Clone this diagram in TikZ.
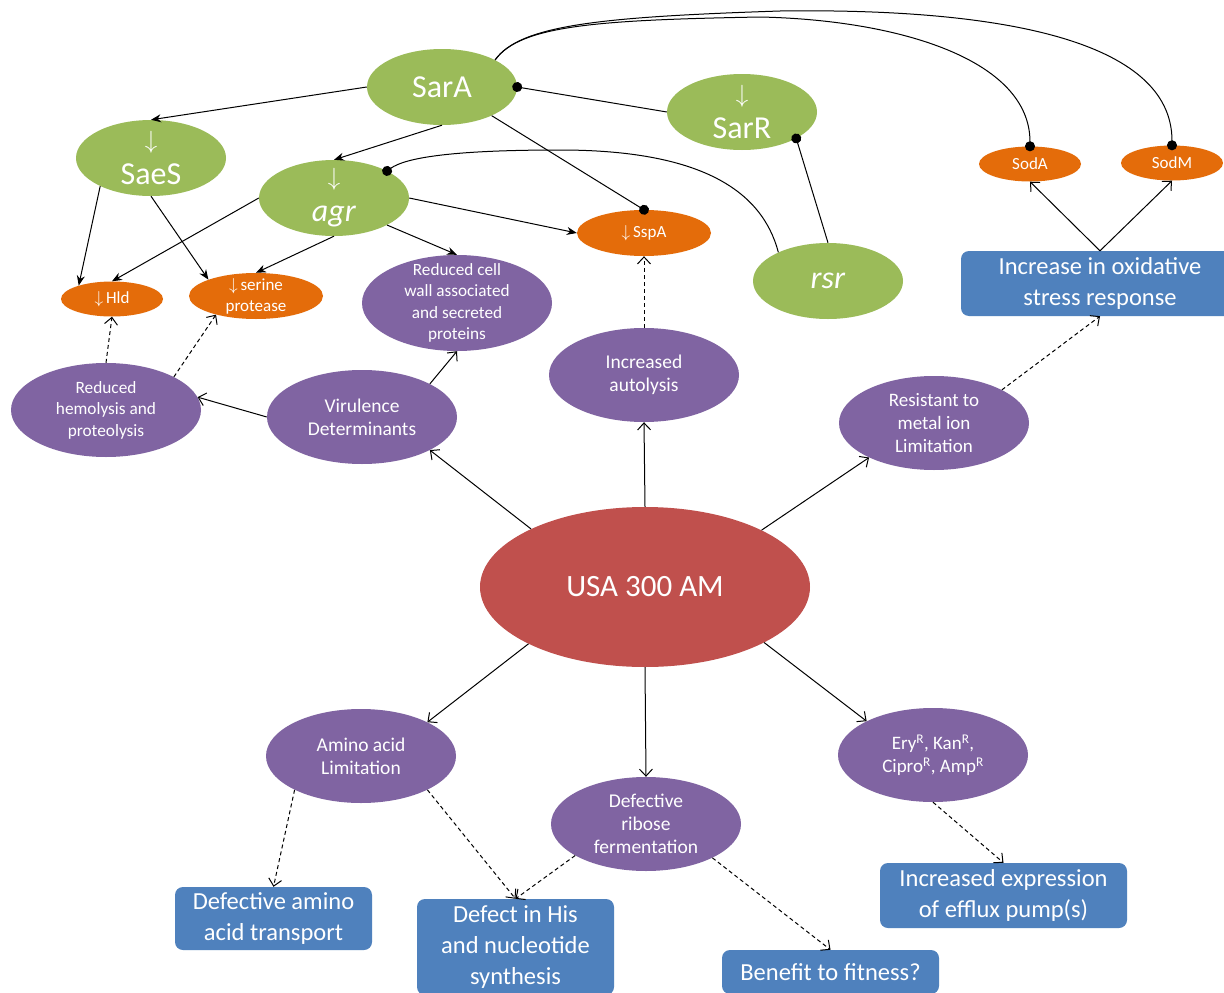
\documentclass[tikz,border=0pt]{standalone}
\usepackage{fontspec}
\setmainfont{Carlito}
\usetikzlibrary{shapes.geometric,arrows.meta}
\definecolor{cgreen}{HTML}{9BBB59}
\definecolor{corange}{HTML}{E46C0A}
\definecolor{cpurple}{HTML}{8064A2}
\definecolor{cblue}{HTML}{4F81BD}
\definecolor{cred}{HTML}{C0504D}
\newcommand{\dnarr}{$\downarrow$}
\newcommand{\res}{\textsuperscript{R}}
\tikzset{
  gene/.style={ellipse, fill=cgreen, text=white, minimum width=150pt, minimum height=76pt, inner xsep=0pt, inner ysep=-24pt, align=center, font=\fontsize{32}{36}\selectfont},
  prot/.style={ellipse, fill=corange, text=white, inner xsep=0pt, inner ysep=-24pt, align=center, font=\fontsize{17}{21}\selectfont},
  pheno/.style={ellipse, fill=cpurple, text=white, minimum width=190pt, minimum height=94pt, inner xsep=0pt, inner ysep=-24pt, align=center, font=\fontsize{19.5}{23}\selectfont},
  outc/.style={rectangle, rounded corners=8pt, fill=cblue, text=white, inner sep=0pt, align=center, font=\fontsize{24.5}{31}\selectfont},
  arr/.style={draw, line width=1pt, -{Straight Barb[length=7pt,width=13pt]}},
  darr/.style={arr, dash pattern=on 4pt off 3pt},
  garr/.style={draw, line width=1pt, -{Stealth[length=10pt,width=8pt]}},
  dotl/.style={draw, line width=1pt, -{Circle[length=10pt]}, shorten >=-5pt},
}
\begin{document}
\begin{tikzpicture}[x=1pt,y=-1pt]
\useasboundingbox (0,0) rectangle (1224,993);
\clip (0,0) rectangle (1224,993);
\fill[white] (0,0) rectangle (1224,993);

% gene nodes
\node[gene] (SarA) at (442,87) {SarA};
\node[gene] (SarR) at (742,112) {\dnarr\\SarR};
\node[gene] (SaeS) at (151,158) {\dnarr\\SaeS};
\node[gene] (agr) at (334,198) {\dnarr\\\textit{agr}};
\node[gene] (rsr) at (828,281) {\textit{rsr}};

% protein nodes
\node[prot, minimum width=102pt, minimum height=35pt] (SodA) at (1030,164) {SodA};
\node[prot, minimum width=102pt, minimum height=35pt] (SodM) at (1172,163) {SodM};
\node[prot, minimum width=134pt, minimum height=46pt] (SspA) at (644,233) {\dnarr\,SspA};
\node[prot, minimum width=102pt, minimum height=35pt] (Hld) at (112,299) {\dnarr\,Hld};
\node[prot, minimum width=134pt, minimum height=46pt] (serine) at (256,296) {\dnarr\,serine\\protease};

% phenotype nodes
\node[pheno, font=\fontsize{17.2}{21.5}\selectfont, minimum height=96pt] (cellwall) at (457,303) {Reduced cell\\wall associated\\and secreted\\proteins};
\node[pheno] (autolysis) at (644,375) {Increased\\autolysis};
\node[pheno, font=\fontsize{17.3}{21.5}\selectfont] (hemo) at (106,410) {Reduced\\hemolysis and\\proteolysis};
\node[pheno] (vir) at (362,417) {Virulence\\Determinants};
\node[pheno, font=\fontsize{19}{23}\selectfont] (resist) at (934,423) {Resistant to\\metal ion\\Limitation};
\node[fill=cred, ellipse, minimum width=330pt, minimum height=160pt, inner sep=0pt, text=white, font=\fontsize{31}{36}\selectfont] (USA) at (645,587) {USA 300 AM};
\node[pheno] (amino) at (361,756) {Amino acid\\Limitation};
\node[pheno] (ribose) at (646,824) {Defective\\ribose\\fermentation};
\node[pheno, font=\fontsize{19}{23}\selectfont] (ery) at (933,755) {Ery\res, Kan\res,\\Cipro\res, Amp\res};

% outcome boxes
\node[outc, minimum width=278pt, minimum height=65pt] (ox) at (1100,283.5) {Increase in oxidative\\stress response};
\node[outc, minimum width=197pt, minimum height=63pt] (transport) at (273.5,918.5) {Defective amino\\acid transport};
\node[outc, minimum width=197pt, minimum height=96pt] (his) at (515.5,947) {Defect in His\\and nucleotide\\synthesis};
\node[outc, minimum width=217pt, minimum height=44pt] (benefit) at (830.5,972) {Benefit to fitness?};
\node[outc, minimum width=247pt, minimum height=65pt] (efflux) at (1003.5,895.5) {Increased expression\\of efflux pump(s)};

% gene network
\draw[garr] (SarA.west) -- (SaeS.north);
\draw[garr] (SarA.south) -- (agr.north);
\draw[dotl] (SarR.west) -- (SarA.east);
\draw[dotl] (SarA.-30) -- (SspA.north);
\draw[dotl] (SarA.27) .. controls (520,25) and (600,17) .. (780,11) .. controls (1000,8) and (1172,40) .. (SodM.north);
\draw[dotl] (SarA.27) .. controls (520,25) and (600,20) .. (760,17) .. controls (900,20) and (1030,60) .. (SodA.north);
\draw[dotl] (rsr.north) -- (SarR.-26);
\draw[dotl] (rsr.150) .. controls (762,190) and (700,150) .. (560,150) .. controls (450,150) and (405,158) .. (agr.27);
\draw[garr] (agr.east) -- (SspA.west);
\draw[garr] (agr.-27) -- (cellwall.north);
\draw[garr] (agr.south) -- (serine.north);
\draw[garr] (agr.west) -- (Hld.north);
\draw[garr] (SaeS.209) -- (Hld.158);
\draw[garr] (SaeS.south) -- (serine.161);

% phenotype arrows
\draw[darr] (hemo.north) -- (Hld.south);
\draw[darr] (hemo.26) -- (serine.205);
\draw[arr] (vir.west) -- (hemo.8);
\draw[arr] (vir.26) -- (cellwall.south);
\draw[darr] (autolysis.north) -- (SspA.south);
\draw[arr] (USA.153.6) -- (vir.-26.6);
\draw[arr] (USA.north) -- (autolysis.south);
\draw[arr] (USA.26) -- (resist.208);
\draw[darr] (resist.26) -- (ox.south);
\draw[arr] (ox.north) -- (SodA.south);
\draw[arr] (ox.north) -- (SodM.south);
\draw[arr] (USA.206.8) -- (amino.27);
\draw[arr] (USA.south) -- (ribose.north);
\draw[arr] (USA.-25.8) -- (ery.153.8);
\draw[darr] (amino.207.6) -- (transport.north);
\draw[darr] (amino.-27) -- (his.north);
\draw[darr] (ribose.204.7) -- (his.north);
\draw[darr] (ribose.-27) -- (benefit.north);
\draw[darr] (ery.south) -- (efflux.north);
\end{tikzpicture}
\end{document}
